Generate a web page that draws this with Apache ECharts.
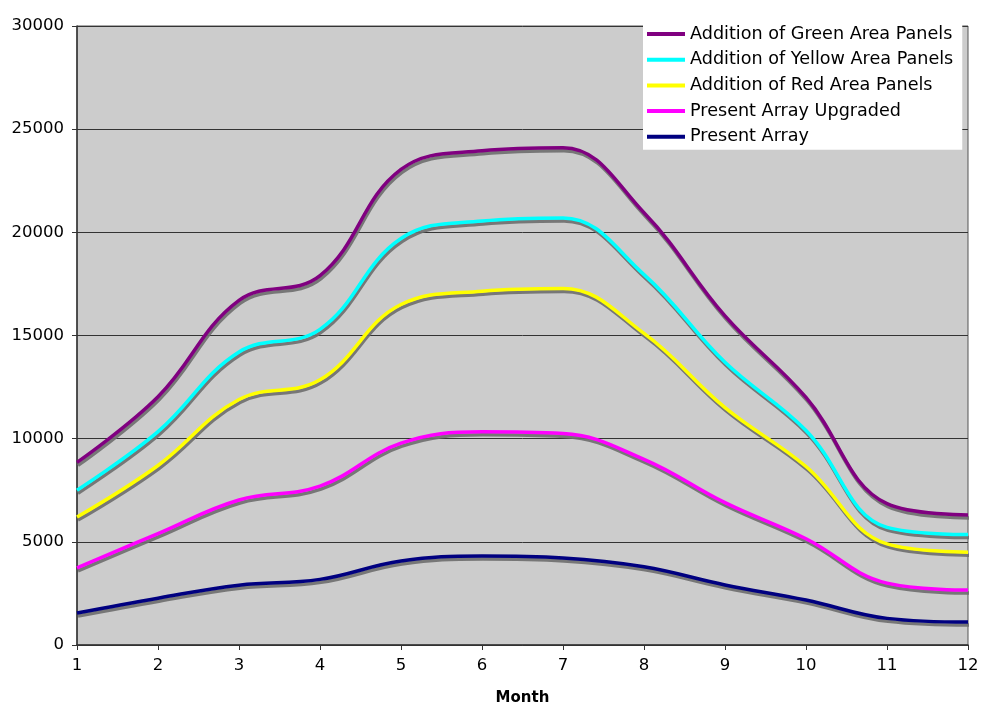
<!DOCTYPE html>
<html>
<head>
<meta charset="utf-8">
<script src="https://cdn.jsdelivr.net/npm/echarts@6/dist/echarts.min.js"></script>
<style>
html,body{margin:0;padding:0;background:#fff;}
#c{width:982px;height:705px;}
</style>
</head>
<body>
<div id="c"></div>
<script>
var months = [1,2,3,4,5,6,7,8,9,10,11,12];
var seriesNames = ["Addition of Green Area Panels","Addition of Yellow Area Panels","Addition of Red Area Panels","Present Array Upgraded","Present Array"];
var greenPanels  = [8850,12030,16700,17900,23050,23950,24100,20950,15950,12000,6850,6300];
var yellowPanels = [7500,10340,14200,15300,19700,20550,20700,17950,13700,10400,5700,5350];
var redPanels    = [6200,8700,11900,12850,16500,17150,17280,15100,11500,8650,4900,4500];
var upgraded     = [3740,5400,7030,7700,9780,10330,10250,9000,6900,5150,3000,2660];
var present      = [1550,2270,2900,3180,4070,4310,4220,3790,2910,2180,1290,1110];
var yTicks = [0,5000,10000,15000,20000,25000,30000];
var colors = ["#800080","#00FFFF","#FFFF00","#FF00FF","#000080"];
var allValues = [greenPanels,yellowPanels,redPanels,upgraded,present];

var font = "'DejaVu Sans', Verdana, sans-serif";
var chart = echarts.init(document.getElementById('c'));
var series = allValues.map(function(vals, i){
  return {
    name: seriesNames[i],
    type: 'line',
    data: months.map(function(m, j){ return [m, vals[j]]; }),
    smooth: 0.4,
    showSymbol: false,
    symbol: 'none',
    z: 10 - i,
    lineStyle: {
      color: colors[i], width: 3.5,
      shadowColor: 'rgba(110,110,110,0.9)', shadowBlur: 0,
      shadowOffsetX: 1, shadowOffsetY: 3
    },
    itemStyle: {color: colors[i]}
  };
});
chart.setOption({
  animation: false,
  backgroundColor: '#ffffff',
  grid: {left: 77, right: 14, top: 26, bottom: 60, outerBoundsMode: 'none', containLabel: false,
    show: true, backgroundColor: '#CCCCCC', borderColor: '#555', borderWidth: 1},
  legend: {
    orient: 'vertical', left: 643, top: 25,
    backgroundColor: '#ffffff', padding: [0, 9, 4, 4],
    itemWidth: 38, itemHeight: 4, itemGap: 7.7,
    icon: 'rect',
    textStyle: {fontFamily: font, fontSize: 17.6, color: '#000', lineHeight: 18},
    data: seriesNames
  },
  xAxis: {
    type: 'value', min: 1, max: 12, interval: 1,
    name: 'Month', nameLocation: 'middle', nameGap: 46,
    nameTextStyle: {fontFamily: font, fontSize: 15, fontWeight: 'bold', color: '#000'},
    axisLine: {show: true, lineStyle: {color: '#333', width: 1.5}},
    axisTick: {show: true, length: 5, lineStyle: {color: '#333'}},
    axisLabel: {fontFamily: font, fontSize: 16.5, color: '#000', margin: 12},
    splitLine: {show: false}
  },
  yAxis: {
    type: 'value', min: 0, max: 30000, interval: 5000,
    axisLine: {show: true, lineStyle: {color: '#333', width: 1.5}},
    axisTick: {show: true, length: 5, lineStyle: {color: '#333'}},
    axisLabel: {fontFamily: font, fontSize: 16.5, color: '#000', margin: 13,
      formatter: function(v){ return yTicks.indexOf(v) >= 0 ? String(v) : ''; }},
    splitLine: {show: true, lineStyle: {color: '#333', width: 1}}
  },
  series: series
});
</script>
</body>
</html>
